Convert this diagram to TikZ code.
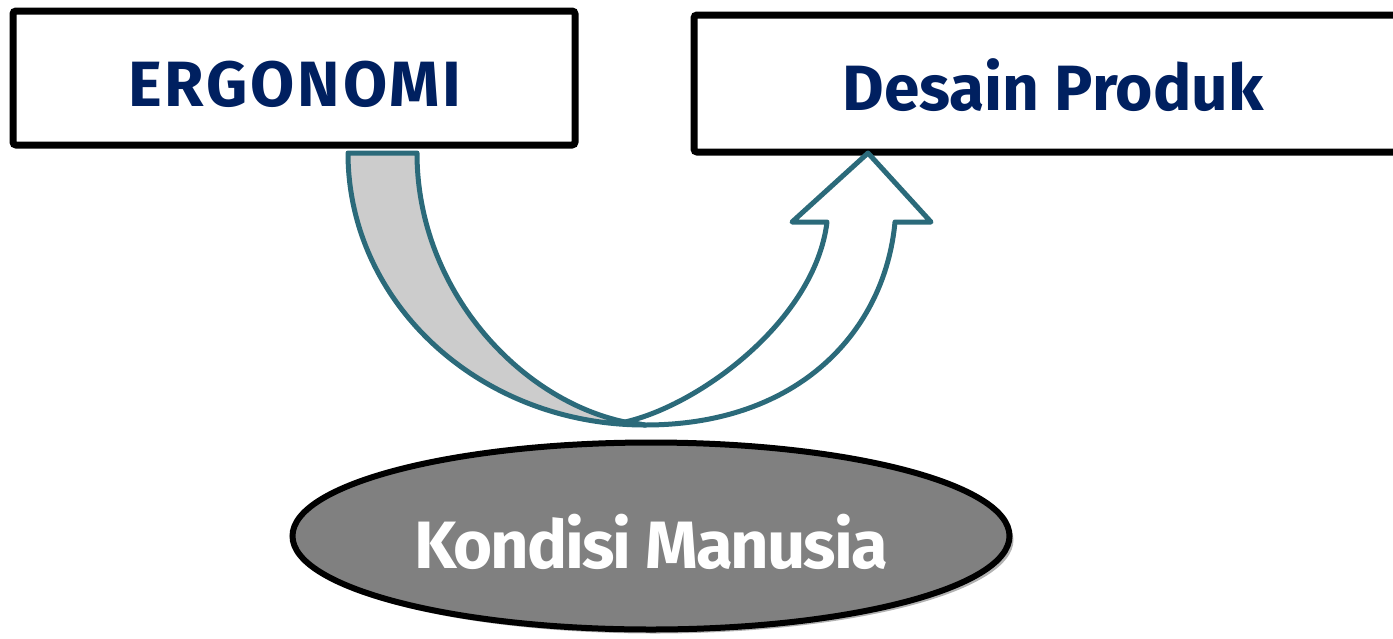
\documentclass[tikz,border=0pt]{standalone}
\usepackage{fontspec}
\setmainfont{Fira Sans}
\usepackage{tikz}
\usetikzlibrary{shapes.geometric,shadows}
\definecolor{navy}{RGB}{0, 32, 96}
\definecolor{arrowteal}{RGB}{43, 106, 122}
\definecolor{tailgray}{RGB}{204, 204, 204}
\definecolor{ovalgray}{RGB}{128, 128, 128}
\tikzstyle{box} = [rectangle, draw=black, line width=7pt, rounded corners=3pt, fill=white, inner sep=0pt]
\tikzstyle{title} = [text=navy, font=\bfseries\fontsize{64}{64}\selectfont, inner sep=0pt, anchor=base]
\tikzstyle{oval} = [ellipse, draw=black, line width=6pt, fill=ovalgray, inner sep=0pt, minimum width=717pt, minimum height=187pt, drop shadow={shadow xshift=4pt, shadow yshift=-4pt, opacity=0.3, fill=black}]
\tikzstyle{oval text} = [text=white, font=\bfseries\fontsize{67}{67}\selectfont, inner sep=0pt, anchor=base]
\tikzstyle{curvearrow} = [draw=arrowteal, line width=5pt, line join=round]

\begin{document}
\begin{tikzpicture}[x=1pt, y=-1pt]
\useasboundingbox (0,0) rectangle (1393,638);

% boxes =============================
\node[box, minimum width=562pt, minimum height=134pt] (ergo) at (294,78) {};
\node[title] (ergotext) at (295,106) {\addfontfeature{LetterSpace=4.5}ERGONOMI};
\node[box, minimum width=720pt, minimum height=137pt] (desain) at (1054,83.5) {};
\node[title] (desaintext) at (1053,110) {Desain Produk};

% oval
\node[oval] (kondisi) at (651,536) {};
\node[oval text] (kondisitext) at (651,568) {\addfontfeature{LetterSpace=-3}Kondisi Manusia};

% curved arrow =============================
\coordinate (tailL) at (348,153);
\coordinate (tailR) at (417,153);
\coordinate (cross) at (625,422);
\coordinate (low) at (645,425);
\coordinate (shL) at (827,222);
\coordinate (barbL) at (792,222);
\coordinate (tip) at (868,153);
\coordinate (barbR) at (931,222);
\coordinate (shR) at (895,222);

% white head part
\path[curvearrow, fill=white] (cross) .. controls (700,405) and (815,320) .. (shL)
  -- (barbL) -- (tip) -- (barbR) -- (shR)
  .. controls (885,330) and (800,425) .. (low) -- cycle;
% gray tail part
\path[curvearrow, fill=tailgray] (tailL) -- (tailR)
  .. controls (417,290) and (520,400) .. (cross) -- (low)
  .. controls (480,425) and (348,303) .. (tailL) -- cycle;

\end{tikzpicture}
\end{document}
